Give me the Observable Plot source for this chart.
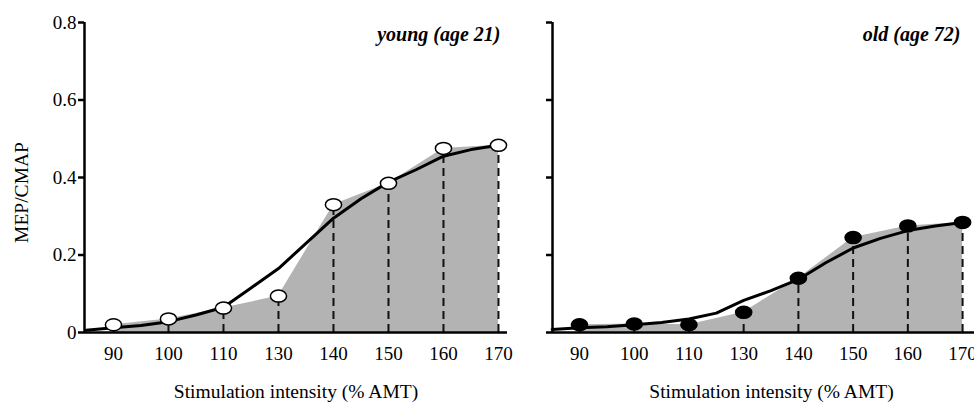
<!DOCTYPE html>
<html>
<head>
<meta charset="utf-8">
<script src="https://cdn.jsdelivr.net/npm/d3@7"></script>
<script src="https://cdn.jsdelivr.net/npm/@observablehq/plot@0.6"></script>
<style>
  html, body { margin: 0; padding: 0; background: white; }
  #wrap { position: relative; width: 974px; height: 402px; overflow: hidden; background: white; }
  #wrap svg { position: absolute; top: 0; }
</style>
</head>
<body>
<div id="wrap"></div>
<script>
// Category labels (stimulation intensity, % AMT) — equally spaced slots
const intensities = [90, 100, 110, 130, 140, 150, 160, 170];
const slots = [0, 1, 2, 3, 4, 5, 6, 7];

// Measured MEP/CMAP values
const youngValues = [0.02, 0.035, 0.063, 0.094, 0.33, 0.385, 0.475, 0.483];
const oldValues   = [0.02, 0.022, 0.02, 0.052, 0.14, 0.245, 0.275, 0.284];

// Fitted sigmoid curves (slot positions, values)
const curveSlots = [-0.5, 0, 0.5, 1, 1.5, 2, 2.5, 3, 3.5, 4, 4.5, 5, 5.5, 6, 6.5, 7];
const youngCurve = [0.006, 0.012, 0.018, 0.028, 0.045, 0.065, 0.115, 0.165, 0.23, 0.295, 0.345, 0.388, 0.42, 0.455, 0.472, 0.483];
const oldCurve   = [0.008, 0.012, 0.015, 0.02, 0.026, 0.035, 0.05, 0.083, 0.108, 0.137, 0.18, 0.218, 0.243, 0.263, 0.275, 0.284];

const yTicks = [0, 0.2, 0.4, 0.6, 0.8];
const panelTitles = ["young (age 21)", "old (age 72)"];
const xLabel = "Stimulation intensity (% AMT)";
const yLabel = "MEP/CMAP";

const ellipse = {
  draw(ctx, size) {
    const r = Math.sqrt(size / Math.PI);
    const rx = r * 1.35, ry = r, k = 0.5523;
    ctx.moveTo(rx, 0);
    ctx.bezierCurveTo(rx, ry * k, rx * k, ry, 0, ry);
    ctx.bezierCurveTo(-rx * k, ry, -rx, ry * k, -rx, 0);
    ctx.bezierCurveTo(-rx, -ry * k, -rx * k, -ry, 0, -ry);
    ctx.bezierCurveTo(rx * k, -ry, rx, -ry * k, rx, 0);
    ctx.closePath();
  }
};

function panel({values, curve, title, fill, width, left, marginRight, xDomain, showYLabels, titleDx}) {
  const pts = slots.map((s, i) => ({s, v: values[i]}));
  const cur = curveSlots.map((s, i) => ({s, v: curve[i]}));
  const marks = [
    Plot.areaY(pts, {x: "s", y: "v", fill: "#b3b3b3"}),
    Plot.ruleX(pts, {x: "s", y1: 0, y2: "v", stroke: "#111", strokeWidth: 2, strokeDasharray: "8,5"}),
    Plot.line(cur, {x: "s", y: "v", stroke: "#000", strokeWidth: 3, curve: "linear", strokeLinejoin: "round"}),
    Plot.ruleY([0], {stroke: "#000", strokeWidth: 2.5}),
    Plot.ruleX([xDomain[0]], {y1: 0, y2: 0.8, stroke: "#000", strokeWidth: 2.5}),
    Plot.dot(pts, {x: "s", y: "v", r: 6, symbol: ellipse, fill: fill, stroke: "#000", strokeWidth: 1.5}),
    Plot.axisX({ticks: slots, tickFormat: (d, i) => String(intensities[i]), tickSize: 0, tickPadding: 13.5, label: null, fontSize: 19}),
    Plot.axisY({ticks: yTicks, tickSize: 6, tickPadding: 2, strokeWidth: 2.5, fontSize: 19,
      tickFormat: showYLabels ? (d => d === 0 ? "0" : d.toFixed(1)) : () => "", label: null}),
    Plot.text([xLabel], {frameAnchor: "bottom", dy: 59, lineAnchor: "middle", fontSize: 19.5}),
    Plot.text([title], {frameAnchor: "top-right", textAnchor: "end", lineAnchor: "top", dx: titleDx, dy: 4,
      fontSize: 20, fontWeight: "bold", fontStyle: "italic"})
  ];
  if (showYLabels) {
    marks.push(Plot.text([yLabel], {frameAnchor: "left", rotate: -90, dx: -63, dy: 15, textAnchor: "middle", lineAnchor: "middle", fontSize: 19.5}));
  }
  const svg = Plot.plot({
    width, height: 402,
    marginLeft: 84, marginRight, marginTop: 22, marginBottom: 70,
    x: {domain: xDomain, axis: null},
    y: {domain: [0, 0.8], axis: null},
    style: {fontFamily: "'Liberation Serif', 'Times New Roman', serif", fontSize: "19px", color: "#000", background: "transparent", overflow: "visible"},
    marks
  });
  svg.style.left = left + "px";
  return svg;
}

const wrap = document.getElementById("wrap");
wrap.appendChild(panel({values: youngValues, curve: youngCurve, title: panelTitles[0], fill: "white",
  width: 520, left: 0, marginRight: 13, xDomain: [-0.527, 7.164], showYLabels: true, titleDx: -7}));
wrap.appendChild(panel({values: oldValues, curve: oldCurve, title: panelTitles[1], fill: "black",
  width: 540, left: 468, marginRight: 18, xDomain: [-0.493, 7.51], showYLabels: false, titleDx: -30}));
</script>
</body>
</html>
